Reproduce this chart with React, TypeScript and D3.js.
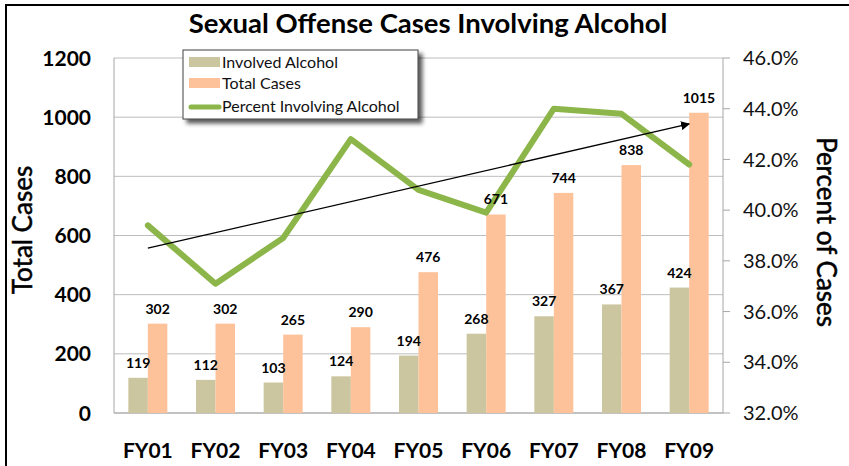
import React from "react";
import * as d3 from "d3";

const categories = ["FY01", "FY02", "FY03", "FY04", "FY05", "FY06", "FY07", "FY08", "FY09"];
const involvedAlcohol = [119, 112, 103, 124, 194, 268, 327, 367, 424];
const totalCases = [302, 302, 265, 290, 476, 671, 744, 838, 1015];
const percentInvolving = [39.4, 37.1, 38.9, 42.8, 40.8, 39.9, 44.0, 43.8, 41.8];
const trendCategories = ["FY01", "FY09"];
const trendValues = [38.5, 43.4];
const leftTicks = [0, 200, 400, 600, 800, 1000, 1200];
const rightTicks = [32, 34, 36, 38, 40, 42, 44, 46];
const seriesNames = ["Involved Alcohol", "Total Cases", "Percent Involving Alcohol"];

const W = 849;
const H = 466;
const M = { left: 114, right: 723, top: 58, bottom: 413 };
const FONT = "Lato, 'Open Sans', sans-serif";
const C_INV = "#CBC69F";
const C_TOT = "#FDC29A";
const C_LINE = "#8CB54A";

export default function App() {
  const x0 = d3.scaleBand<string>().domain(categories).range([M.left, M.right]).padding(0);
  const x1 = d3
    .scaleBand<string>()
    .domain(["inv", "tot"])
    .range([0, x0.bandwidth()])
    .paddingInner(0)
    .paddingOuter(0.735);
  const yL = d3.scaleLinear().domain([0, 1200]).range([M.bottom, M.top]);
  const yR = d3.scaleLinear().domain([32, 46]).range([M.bottom, M.top]);
  const cx = (c: string) => (x0(c) as number) + x0.bandwidth() / 2;

  const line = d3
    .line<number>()
    .x((_, i) => cx(categories[i]))
    .y((d) => yR(d));

  const tx1 = cx(trendCategories[0]);
  const ty1 = yR(trendValues[0]);
  const tx2 = cx(trendCategories[1]);
  const ty2 = yR(trendValues[1]);

  const bw = x1.bandwidth();

  return (
    <svg
      width={W}
      height={H}
      style={{ position: "absolute", left: 0, top: 0, background: "#fff" }}
      fontFamily={FONT}
    >
      <defs>
        <filter id="shadow" x="-10%" y="-20%" width="130%" height="160%">
          <feDropShadow dx="4" dy="4" stdDeviation="2" floodColor="#000" floodOpacity="0.65" />
        </filter>
        <marker id="arrow" viewBox="0 0 10 10" refX="9" refY="5" markerWidth="9" markerHeight="9" orient="auto" markerUnits="userSpaceOnUse">
          <path d="M0,0 L10,5 L0,10 z" fill="#000" />
        </marker>
      </defs>
      <rect x={0} y={0} width={W} height={H} fill="#fff" />
      <rect x={6} y={5} width={W + 10} height={H + 10} fill="none" stroke="#000" strokeWidth={2} />

      {/* Title */}
      <text x={428} y={33} textAnchor="middle" fontSize={27.5} fontWeight={700} fill="#000">
        Sexual Offense Cases Involving Alcohol
      </text>

      {/* gridlines */}
      {leftTicks.map((t) => (
        <line key={t} x1={M.left} x2={M.right} y1={yL(t)} y2={yL(t)} stroke="#BDBDBD" strokeWidth={1} />
      ))}
      <line x1={M.left} x2={M.left} y1={M.top} y2={M.bottom} stroke="#A6A6A6" strokeWidth={1} />
      <line x1={M.left} x2={M.right} y1={M.bottom} y2={M.bottom} stroke="#A6A6A6" strokeWidth={1} />
      <line x1={M.right} x2={M.right} y1={M.top} y2={M.bottom} stroke="#A6A6A6" strokeWidth={1} />
      {rightTicks.map((t) => (
        <line key={t} x1={M.right} x2={M.right + 7} y1={yR(t)} y2={yR(t)} stroke="#A6A6A6" strokeWidth={1} />
      ))}

      {leftTicks.map((t) => (
        <text key={t} x={91} y={yL(t)} dy="0.36em" textAnchor="end" fontSize={21} fontWeight={700} fill="#000">
          {t}
        </text>
      ))}
      {rightTicks.map((t) => (
        <text key={t} x={743} y={yR(t)} dy="0.36em" textAnchor="start" fontSize={20} fill="#111">
          {t.toFixed(1) + "%"}
        </text>
      ))}

      <text transform={`translate(32,230) rotate(-90)`} textAnchor="middle" fontSize={26} fill="#000" stroke="#000" strokeWidth={0.5}>
        Total Cases
      </text>
      <text transform={`translate(817,232) rotate(90)`} textAnchor="middle" fontSize={26} fill="#000" stroke="#000" strokeWidth={0.5}>
        Percent of Cases
      </text>

      {categories.map((c) => (
        <text key={c} x={cx(c)} y={458} textAnchor="middle" fontSize={21} fontWeight={700} fill="#000">
          {c}
        </text>
      ))}

      {categories.map((c, i) => {
        const xi = (x0(c) as number) + (x1("inv") as number);
        const xt = (x0(c) as number) + (x1("tot") as number);
        return (
          <g key={c}>
            <rect x={xi} y={yL(involvedAlcohol[i])} width={bw} height={M.bottom - yL(involvedAlcohol[i])} fill={C_INV} />
            <rect x={xt} y={yL(totalCases[i])} width={bw} height={M.bottom - yL(totalCases[i])} fill={C_TOT} />
          </g>
        );
      })}

      <path d={line(percentInvolving) as string} fill="none" stroke={C_LINE} strokeWidth={6} strokeLinejoin="round" strokeLinecap="round" />

      <line x1={tx1} y1={ty1} x2={tx2} y2={ty2} stroke="#000" strokeWidth={1.3} markerEnd="url(#arrow)" />

      {categories.map((c, i) => {
        const xi = (x0(c) as number) + (x1("inv") as number);
        const xt = (x0(c) as number) + (x1("tot") as number);
        return (
          <g key={c + "-lbl"}>
            <text x={xi + bw / 2} y={yL(involvedAlcohol[i]) - 10} textAnchor="middle" fontSize={14} fontWeight={700} fill="#000">
              {involvedAlcohol[i]}
            </text>
            <text x={xt + bw / 2} y={yL(totalCases[i]) - 10} textAnchor="middle" fontSize={14} fontWeight={700} fill="#000">
              {totalCases[i]}
            </text>
          </g>
        );
      })}

      <g>
        <rect x={183} y={50} width={235} height={69} fill="#fff" stroke="#404040" strokeWidth={1} filter="url(#shadow)" />
        <rect x={189} y={57} width={31} height={10} fill={C_INV} />
        <text x={222} y={62} dy="0.35em" fontSize={16} fill="#111">{seriesNames[0]}</text>
        <rect x={189} y={78} width={31} height={10} fill={C_TOT} />
        <text x={222} y={83} dy="0.35em" fontSize={16} fill="#111">{seriesNames[1]}</text>
        <line x1={191} x2={219} y1={107} y2={107} stroke={C_LINE} strokeWidth={5} strokeLinecap="round" />
        <text x={222} y={106} dy="0.35em" fontSize={16} fill="#111">{seriesNames[2]}</text>
      </g>
    </svg>
  );
}
